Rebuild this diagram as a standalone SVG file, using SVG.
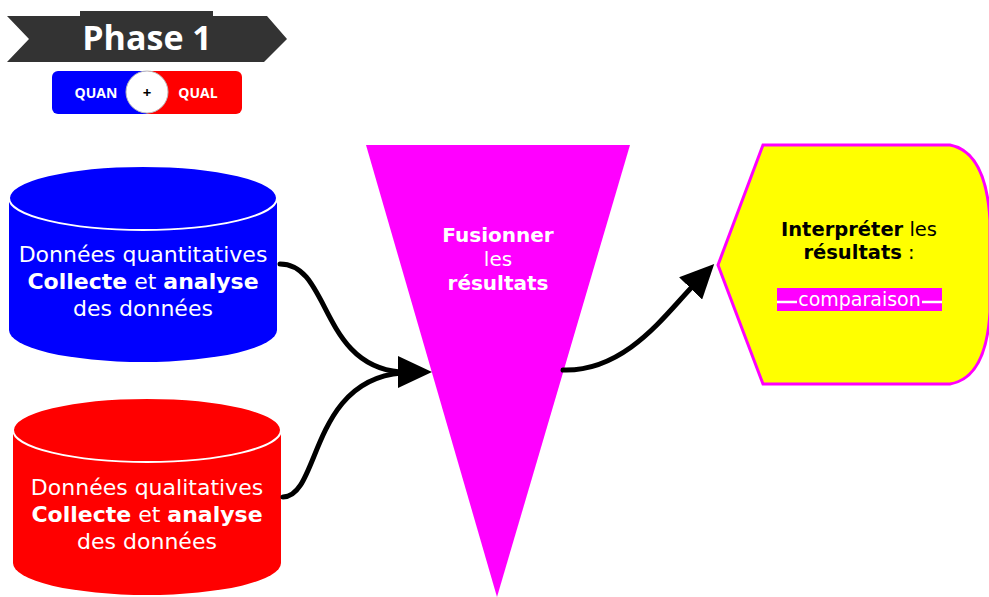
<svg xmlns="http://www.w3.org/2000/svg" width="989" height="597" viewBox="0 0 989 597">
<style>
.t{font-family:"DejaVu Sans","Verdana",sans-serif;text-anchor:middle}
.b{font-weight:bold}
.w{fill:#fff}
.k{fill:#000}
.cal{font-family:"Open Sans","Lato",sans-serif;font-weight:bold;text-anchor:middle}
.conn{fill:none;stroke:#000;stroke-width:5;stroke-linecap:round}
</style>
<defs>
<marker id="ah" markerUnits="userSpaceOnUse" viewBox="0 0 34 32" markerWidth="34" markerHeight="32" refX="2" refY="16" orient="auto">
<path d="M0,0 L34,16 L0,32 Z" fill="#000"/>
</marker>
</defs>
<rect width="989" height="597" fill="#fff"/>

<g id="phase">
<polygon points="7,16 267,16 287,39 264,62 7,62 29,39" fill="#333"/>
<rect x="80" y="11" width="133" height="10" fill="#333"/>
<text class="cal w" x="147" y="50" font-size="34">Phase 1</text>
</g>

<g id="quanqual">
<rect x="52" y="71" width="100" height="43" rx="6" fill="#00f"/>
<rect x="143" y="71" width="99" height="43" rx="6" fill="#f00"/>
<circle cx="147" cy="92" r="21" fill="#fff" stroke="#bbb" stroke-width="1"/>
<text class="cal w" x="96" y="98" font-size="14">QUAN</text>
<text class="cal w" x="198" y="98" font-size="14">QUAL</text>
<text class="cal k" x="147" y="98" font-size="15">+</text>
</g>

<g id="quant">
<path d="M9,198 L9,330 A134,32 0 0 0 277,330 L277,198 Z" fill="#00f"/>
<ellipse cx="143" cy="198" rx="134" ry="32" fill="#00f" stroke="#fff" stroke-width="2"/>
<text class="t w" x="143" y="262" font-size="22">Données quantitatives</text>
<text class="t w" x="143" y="289" font-size="22"><tspan class="b">Collecte</tspan> et <tspan class="b">analyse</tspan></text>
<text class="t w" x="143" y="316" font-size="22">des données</text>
</g>

<g id="qual">
<path d="M13,430 L13,563 A134,32 0 0 0 281,563 L281,430 Z" fill="#f00"/>
<ellipse cx="147" cy="430" rx="134" ry="32" fill="#f00" stroke="#fff" stroke-width="2"/>
<text class="t w" x="147" y="495" font-size="22">Données qualitatives</text>
<text class="t w" x="147" y="522" font-size="22"><tspan class="b">Collecte</tspan> et <tspan class="b">analyse</tspan></text>
<text class="t w" x="147" y="549" font-size="22">des données</text>
</g>

<g id="fusion">
<polygon points="366,145 630,145 497,597" fill="#f0f"/>
<text class="t w b" x="498" y="242" font-size="20">Fusionner</text>
<text class="t w" x="498" y="266" font-size="20">les</text>
<text class="t w b" x="498" y="290" font-size="20">résultats</text>
</g>

<g id="interpret">
<path d="M718,265 L763,145 L950,145 Q986,152 990,220 L990,312 Q986,378 950,384 L763,384 Z" fill="#ff0" stroke="#f0f" stroke-width="3"/>
<text class="t k" x="859" y="236" font-size="19.5"><tspan class="b">Interpréter</tspan> les</text>
<text class="t k" x="859" y="259" font-size="19.5"><tspan class="b">résultats</tspan> :</text>
<rect x="777" y="288" width="165" height="23" fill="#f0f"/>
<line x1="777" y1="302" x2="797" y2="302" stroke="#fff" stroke-width="2.5"/>
<line x1="922" y1="302" x2="942" y2="302" stroke="#fff" stroke-width="2.5"/>
<text class="t w" x="859.5" y="306" font-size="19">comparaison</text>
</g>

<g id="connectors">
<path class="conn" d="M280,264 C330,264 320,365 400,372"/>
<path class="conn" d="M283,497 C320,497 310,380 402,373"/>
<path class="conn" d="M563,370 C625,372 665,315 692,287" marker-end="url(#ah)"/>
<path d="M398,356 L432,372 L398,388 Z" fill="#000"/>
</g>
</svg>
